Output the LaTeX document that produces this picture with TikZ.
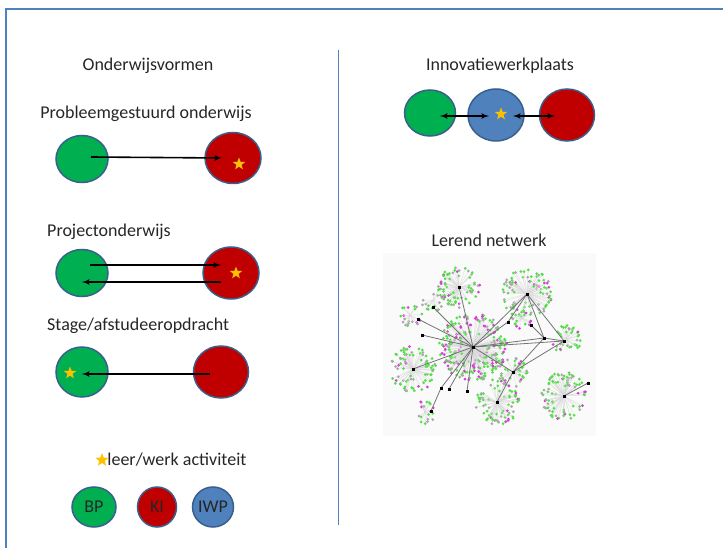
\documentclass[tikz,border=0pt]{standalone}
\usepackage{fontspec}
\setmainfont{Carlito}
\usetikzlibrary{positioning,shapes,arrows}
\definecolor{bpgreen}{HTML}{00B050}
\definecolor{kired}{HTML}{C00000}
\definecolor{iwpblue}{HTML}{4F81BD}
\definecolor{rimblue}{HTML}{3A5F8C}
\definecolor{stargold}{HTML}{FFC000}
\definecolor{netgreen}{HTML}{55E04A}
\definecolor{netpink}{HTML}{D63FD6}
\definecolor{netgrey}{HTML}{A8A8A8}
\tikzstyle{bp} = [ellipse, draw=rimblue, line width=1.5pt, fill=bpgreen]
\tikzstyle{ki} = [ellipse, draw=rimblue, line width=1.5pt, fill=kired]
\tikzstyle{iwp} = [ellipse, draw=rimblue, line width=1.5pt, fill=iwpblue]
\tikzstyle{act} = [star, star points=5, star point ratio=2.4, fill=stargold, inner sep=0pt, minimum size=13pt]
\tikzstyle{lbl} = [font=\fontsize{18}{20}\selectfont, text=black!85, inner sep=0pt]
\tikzstyle{line} = [draw, line width=1.6pt, -latex']
\tikzstyle{dline} = [draw, line width=1.6pt, latex'-latex']
\pgfmathdeclarerandomlist{pinky}{{netgreen}{netgreen}{netgreen}{netpink}{netpink}{netgrey}}
\pgfmathdeclarerandomlist{greeny}{{netgreen}{netgreen}{netgreen}{netgreen}{netgreen}{netgrey}{netgrey}{netpink}}
\pgfmathdeclarerandomlist{greyish}{{netgrey}{netgrey}{netgreen}}

\begin{document}
\begin{tikzpicture}[x=1pt, y=-1pt]
        \useasboundingbox (0,0) rectangle (723,548);
        % Frame and divider
        \draw[iwpblue, line width=2pt] (6,548) -- (6,9) -- (723,9);
        \draw[iwpblue, line width=0.8pt] (338,50) -- (338,525);

        % Titles
        \node at (148,66) [lbl] (tvorm) {Onderwijsvormen};
        \node at (146,114) [lbl] (tpgo) {Probleemgestuurd onderwijs};
        \node at (47,232) [lbl, anchor=west] (tpo) {Projectonderwijs};
        \node at (47,326) [lbl, anchor=west] (tstage) {Stage/afstudeeropdracht};
        \node at (500,66) [lbl] (tiwp) {Innovatiewerkplaats};
        \node at (489,240) [lbl] (tnet) {Lerend netwerk};

        % Place nodes
        \node at (82,159) [bp, minimum width=52pt, minimum height=47pt] (g1) {};
        \node at (233,158) [ki, minimum width=56pt, minimum height=51pt] (r1) {};
        \node at (239,164) [act] (s1) {};
        \node at (82,273) [bp, minimum width=52pt, minimum height=47pt] (g2) {};
        \node at (231,273) [ki, minimum width=56pt, minimum height=52pt] (r2) {};
        \node at (236,273) [act] (s2) {};
        \node at (82,372) [bp, minimum width=52pt, minimum height=50pt] (g3) {};
        \node at (221,372) [ki, minimum width=55pt, minimum height=52pt] (r3) {};
        \node at (70,373) [act] (s3) {};
        \node at (430,113) [bp, minimum width=51pt, minimum height=46pt] (g4) {};
        \node at (496,115) [iwp, minimum width=56pt, minimum height=52pt] (b4) {};
        \node at (567,115) [ki, minimum width=55pt, minimum height=52pt] (r4) {};
        \node at (501,114) [act] (s4) {};

        % Legend
        \node at (102,460) [act, minimum size=14pt] (sl) {};
        \node [lbl, right=1pt of sl] (tact) {leer/werk activiteit};
        \node at (94,507) [bp, minimum width=44pt, minimum height=40pt] (lbp) {};
        \node at (lbp) [lbl] {BP};
        \node at (157,507) [ki, minimum width=39pt, minimum height=40pt] (lki) {};
        \node at (lki) [lbl] {KI};
        \node at (213,507) [iwp, minimum width=41pt, minimum height=40pt] (liwp) {};
        \node at (liwp) [lbl] {IWP};

        % Draw edges
        \path [line] ([xshift=9pt,yshift=2pt]g1.center) -- ([xshift=-11pt]r1.center);
        \path [line] ([xshift=8pt,yshift=8pt]g2.center) -- ([xshift=-10pt,yshift=8pt]r2.center);
        \path [line] ([xshift=-10pt,yshift=-9pt]r2.center) -- ([yshift=-9pt]g2.center);
        \path [line] ([xshift=-11pt,yshift=-2pt]r3.center) -- ([yshift=-2pt]g3.center);
        \path [dline] ([xshift=10pt,yshift=-3pt]g4.center) -- ([xshift=-7pt,yshift=-1pt]b4.center);
        \path [dline] ([xshift=17pt,yshift=-1pt]b4.center) -- ([xshift=-12pt,yshift=-1pt]r4.center);

        % Network
        \fill[black!2] (383,253) rectangle (596,436);
        \pgfmathsetseed{42}
        \foreach \hx/\hy/\hr/\hn/\hl in {473/347/34/230/pinky, 459/287/21/70/greeny, 527/294/25/85/greeny,
                566/340/15/35/greeny, 413/369/23/80/greeny, 564/396/24/80/greeny, 497/402/23/75/greeny,
                513/372/15/35/greeny, 433/300/12/16/greyish, 410/315/12/20/greeny, 425/412/12/18/greeny,
                522/318/11/20/pinky} {
            \foreach \k in {1,...,\hn} {
                \pgfmathsetmacro\ang{rnd*360}
                \pgfmathsetmacro\rad{\hr*(0.3+0.7*sqrt(rnd))}
                \pgfmathrandomitem\dc{\hl}
                \draw[black!15, line width=0.25pt] (\hx,\hy) -- ++(\ang:\rad);
                \fill[\dc] (\hx,\hy) ++(\ang:\rad) circle (1.5pt);
            }
        }
        \coordinate (hA) at (473,347);
        \coordinate (hB) at (459,287);
        \coordinate (hC) at (527,294);
        \coordinate (hD) at (564,341);
        \coordinate (hE) at (413,369);
        \coordinate (hF) at (564,396);
        \coordinate (hG) at (497,402);
        \coordinate (hH) at (513,372);
        \coordinate (hI) at (544,338);
        \coordinate (n1) at (433,307);
        \coordinate (n2) at (418,319);
        \coordinate (n3) at (422,335);
        \coordinate (n4) at (508,322);
        \coordinate (n5) at (531,325);
        \coordinate (n6) at (441,388);
        \coordinate (n7) at (449,389);
        \coordinate (n8) at (467,391);
        \coordinate (n9) at (431,411);
        \coordinate (n10) at (588,383);
        \foreach \p/\q in {hA/hB, hA/n1, hA/n2, hA/n3, hA/hE, hA/hC, hA/n4, hA/hI, hA/hD, hA/hH,
                hA/n6, hA/n7, hA/n8, n6/n9, hC/hI, hC/hD, hI/hD, n4/hC, hH/hD, hH/hG, hH/hI, hF/n10, n5/hI}
            \draw[black!55, line width=0.8pt] (\p) -- (\q);
        \foreach \h in {hA,hB,hC,hD,hE,hF,hG,hH,hI,n1,n2,n3,n4,n5,n6,n7,n8,n9,n10}
            \fill[black] (\h) +(-1.5,-1.5) rectangle +(1.5,1.5);
    \end{tikzpicture}
\end{document}
